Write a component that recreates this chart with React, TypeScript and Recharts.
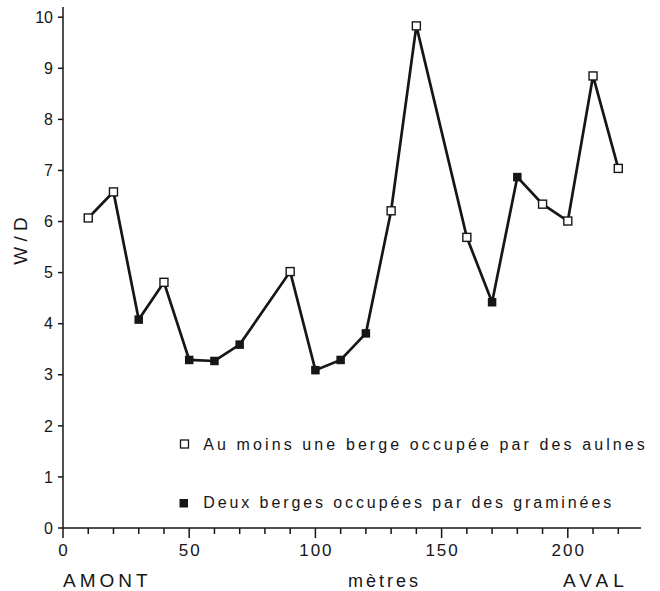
import React from 'react';
import { LineChart, Line, XAxis, YAxis, Label, Legend } from 'recharts';

const distances = [10, 20, 30, 40, 50, 60, 70, 90, 100, 110, 120, 130, 140, 160, 170, 180, 190, 200, 210, 220];
const wdValues = [6.07, 6.58, 4.08, 4.81, 3.29, 3.27, 3.59, 5.02, 3.09, 3.29, 3.81, 6.21, 9.83, 5.69, 4.42, 6.87, 6.34, 6.01, 8.85, 7.04];
// 'a' = au moins une berge occupée par des aulnes, 'g' = deux berges occupées par des graminées
const bankTypes = ['a', 'a', 'g', 'a', 'g', 'g', 'g', 'a', 'g', 'g', 'g', 'a', 'a', 'a', 'g', 'g', 'a', 'a', 'a', 'a'];

const xTicks = [0, 10, 20, 30, 40, 50, 60, 70, 80, 90, 100, 110, 120, 130, 140, 150, 160, 170, 180, 190, 200, 210, 220];
const xLabelTicks = [0, 50, 100, 150, 200];
const yTicks = [0, 1, 2, 3, 4, 5, 6, 7, 8, 9, 10];

const legendLabels = [
  'Au moins une berge occupée par des aulnes',
  'Deux berges occupées par des graminées',
];

const FONT = '"Liberation Sans", Arial, Helvetica, sans-serif';
const INK = '#161616';

const data = distances.map((d, i) => ({ d, wd: wdValues[i], bank: bankTypes[i] }));

const XTick = (props: any) => {
  const { x, y, payload } = props;
  const v = payload.value;
  const major = xLabelTicks.includes(v);
  return (
    <g>
      <line x1={x} x2={x} y1={y} y2={y + (major ? 10 : 6)} stroke={INK} strokeWidth={1.5} />
      {major && (
        <text x={x + 1} y={y + 28} textAnchor="middle" fontSize={17} letterSpacing={2} fill={INK} fontFamily={FONT}>
          {v}
        </text>
      )}
    </g>
  );
};

const renderDot = (props: any) => {
  const { cx, cy, payload, index } = props;
  const filled = payload.bank === 'g';
  const s = filled ? 8.5 : 8;
  return (
    <rect
      key={`dot-${index}`}
      x={cx - s / 2}
      y={cy - s / 2}
      width={s}
      height={s}
      fill={filled ? INK : '#fff'}
      stroke={INK}
      strokeWidth={filled ? 0 : 1.4}
    />
  );
};

const renderLegend = () => (
  <svg width={480} height={95} style={{ display: 'block', overflow: 'visible' }}>
    <rect x={10.5} y={15} width={8} height={8} fill="#fff" stroke={INK} strokeWidth={1.3} />
    <text x={33.3} y={25} fontSize={16} letterSpacing={3.1} fill={INK} fontFamily={FONT}>
      {legendLabels[0]}
    </text>
    <rect x={9.5} y={74} width={8.5} height={8.5} fill={INK} />
    <text x={33.3} y={82.5} fontSize={16} letterSpacing={2.9} fill={INK} fontFamily={FONT}>
      {legendLabels[1]}
    </text>
  </svg>
);

export default function App() {
  return (
    <div style={{ position: 'absolute', left: 0, top: 0, width: 660, height: 591, background: '#fff' }}>
      <LineChart width={660} height={591} data={data} margin={{ top: 7, right: 19, bottom: 0, left: 13 }}>
        <XAxis
          type="number"
          dataKey="d"
          domain={[0, 229]}
          ticks={xTicks}
          interval={0}
          tick={<XTick />}
          tickLine={false}
          tickSize={0}
          tickMargin={0}
          height={63}
          axisLine={{ stroke: INK, strokeWidth: 1.5 }}
        >
          <Label
            content={(p: any) => (
              <text x={p.viewBox.x} y={p.viewBox.y + 58.5} fontSize={19} letterSpacing={4} fill={INK} fontFamily={FONT}>
                AMONT
              </text>
            )}
          />
          <Label
            content={(p: any) => (
              <text x={p.viewBox.x + 285} y={p.viewBox.y + 58.5} fontSize={18} letterSpacing={3} fill={INK} fontFamily={FONT}>
                mètres
              </text>
            )}
          />
          <Label
            content={(p: any) => (
              <text x={p.viewBox.x + 500} y={p.viewBox.y + 58.5} fontSize={19} letterSpacing={5} fill={INK} fontFamily={FONT}>
                AVAL
              </text>
            )}
          />
        </XAxis>
        <YAxis
          type="number"
          domain={[0, 10.2]}
          ticks={yTicks}
          interval={0}
          width={50}
          tickSize={5}
          tickMargin={5}
          tick={{ fontSize: 16, fill: INK, fontFamily: FONT }}
          tickLine={{ stroke: INK, strokeWidth: 1.5 }}
          axisLine={{ stroke: INK, strokeWidth: 1.5 }}
        >
          <Label
            content={(p: any) => (
              <text
                x={p.viewBox.x + 14}
                y={p.viewBox.y + 234}
                transform={`rotate(-90, ${p.viewBox.x + 14}, ${p.viewBox.y + 234})`}
                textAnchor="middle"
                fontSize={19}
                fill={INK}
                fontFamily={FONT}
              >
                W / D
              </text>
            )}
          />
        </YAxis>
        <Legend
          layout="vertical"
          align="center"
          verticalAlign="middle"
          content={renderLegend}
          wrapperStyle={{ left: 170, top: 425, width: 480, height: 95 }}
        />
        <Line
          type="linear"
          dataKey="wd"
          stroke={INK}
          strokeWidth={2.7}
          dot={renderDot}
          activeDot={false}
          isAnimationActive={false}
        />
      </LineChart>
    </div>
  );
}
